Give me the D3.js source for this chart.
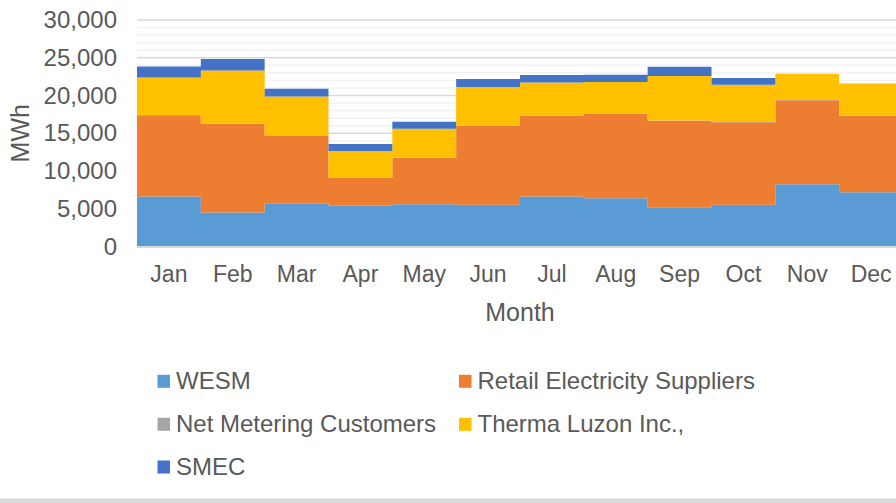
<!DOCTYPE html>
<html>
<head>
<meta charset="utf-8">
<script src="https://cdn.jsdelivr.net/npm/d3@7"></script>
<style>
  html, body { margin: 0; padding: 0; background: #fff; overflow: hidden; }
  svg { display: block; font-family: "Liberation Sans", Arial, sans-serif; }
</style>
</head>
<body>
<svg id="chart" width="896" height="503"></svg>
<script>
const months = ["Jan","Feb","Mar","Apr","May","Jun","Jul","Aug","Sep","Oct","Nov","Dec"];
const seriesNames = ["WESM","Retail Electricity Suppliers","Net Metering Customers","Therma Luzon Inc.,","SMEC"];
const wesm    = [6615, 4500, 5740, 5385, 5605, 5515, 6615, 6400, 5210, 5515, 8255, 7195];
const retail  = [10775, 11770, 8950, 3745, 6130, 10495, 10715, 11200, 11460, 10935, 11115, 10135];
const netMeter= [30, 30, 30, 30, 30, 30, 30, 30, 30, 30, 30, 30];
const therma  = [4970, 7015, 5155, 3490, 3835, 5080, 4370, 4150, 5870, 4940, 3480, 4235];
const smec    = [1455, 1505, 1015, 925, 930, 1060, 975, 965, 1235, 890, 0, 0];
const yTicks  = [0, 5000, 10000, 15000, 20000, 25000, 30000];
const colors  = ["#5B9BD5", "#ED7D31", "#A5A5A5", "#FFC000", "#4472C4"];

const svg = d3.select("#chart");
const pLeft = 137, pRight = 903, pTop = 20, pBottom = 246.5;
const textColor = "#595959";

const x = d3.scaleLinear().domain([0, months.length]).range([pLeft, pRight]);
const y = d3.scaleLinear().domain([0, 30000]).range([pBottom, pTop]);

// rows: one per month, plus a closing row so the last step has width
const valuesBySeries = [wesm, retail, netMeter, therma, smec];
const rows = months.map((m, i) => {
  const r = { idx: i };
  seriesNames.forEach((s, k) => r[s] = valuesBySeries[k][i]);
  return r;
});
const closing = Object.assign({}, rows[rows.length - 1], { idx: months.length });
const stackRows = rows.concat([closing]);

// gridlines: minor at 1000, major at 5000
const minor = d3.range(1000, 30001, 1000).filter(v => v % 5000 !== 0);
svg.append("g").selectAll("line").data(minor).join("line")
  .attr("x1", pLeft).attr("x2", pRight)
  .attr("y1", d => y(d)).attr("y2", d => y(d))
  .attr("stroke", "#f2f2f2").attr("stroke-width", 1.5);
svg.append("g").selectAll("line").data(yTicks.filter(v => v > 0)).join("line")
  .attr("x1", pLeft).attr("x2", pRight)
  .attr("y1", d => y(d)).attr("y2", d => y(d))
  .attr("stroke", "#d9d9d9").attr("stroke-width", 1.5);

const stack = d3.stack().keys(seriesNames);
const layers = stack(stackRows);

const area = d3.area()
  .curve(d3.curveStepAfter)
  .x(d => x(d.data.idx))
  .y0(d => y(d[0]))
  .y1(d => y(d[1]));

svg.append("g").selectAll("path").data(layers).join("path")
  .attr("d", area)
  .attr("fill", (d, i) => colors[i]);

// baseline
svg.append("line")
  .attr("x1", pLeft).attr("x2", pRight)
  .attr("y1", y(0) + 0.5).attr("y2", y(0) + 0.5)
  .attr("stroke", "#d9d9d9").attr("stroke-width", 2);

// y axis labels
const yAxis = d3.axisLeft(y).tickValues(yTicks).tickFormat(d3.format(",")).tickSize(0).tickPadding(0);
const gy = svg.append("g").attr("transform", `translate(117,0)`).call(yAxis);
gy.select(".domain").remove();
gy.selectAll("text").attr("fill", textColor).attr("font-size", 24)
  .attr("font-family", "Liberation Sans, Arial, sans-serif");

// x axis labels
const xBand = d3.scaleBand().domain(months).range([pLeft, pRight]);
const xAxis = d3.axisBottom(xBand).tickSize(0).tickPadding(0);
const gx = svg.append("g").attr("transform", `translate(0,265)`).call(xAxis);
gx.select(".domain").remove();
gx.selectAll("text").attr("fill", textColor).attr("font-size", 23)
  .attr("dy", "0.72em")
  .attr("font-family", "Liberation Sans, Arial, sans-serif");

// axis titles
svg.append("text").attr("x", (pLeft + pRight) / 2).attr("y", 321)
  .attr("text-anchor", "middle").attr("fill", textColor).attr("font-size", 25)
  .text("Month");
svg.append("text")
  .attr("transform", `translate(29,${(pTop + pBottom) / 2}) rotate(-90)`)
  .attr("text-anchor", "middle").attr("fill", textColor).attr("font-size", 25)
  .text("MWh");

// legend
const legendPos = [
  { x: 157.5, y: 389.3 }, { x: 459, y: 389.3 },
  { x: 157.5, y: 432.3 }, { x: 459, y: 432.3 },
  { x: 157.5, y: 475 }
];
const lg = svg.append("g").selectAll("g").data(seriesNames).join("g")
  .attr("transform", (d, i) => `translate(${legendPos[i].x},${legendPos[i].y})`);
lg.append("rect").attr("x", 0).attr("y", -14.5).attr("width", 12.5).attr("height", 13)
  .attr("fill", (d, i) => colors[i]);
lg.append("text").attr("x", 18.5).attr("y", 0)
  .attr("fill", textColor).attr("font-size", 24)
  .text(d => d);

// chart border bottom
svg.append("rect").attr("x", 0).attr("y", 498.5).attr("width", 896).attr("height", 4.5)
  .attr("fill", "#d9d9d9");
</script>
</body>
</html>
